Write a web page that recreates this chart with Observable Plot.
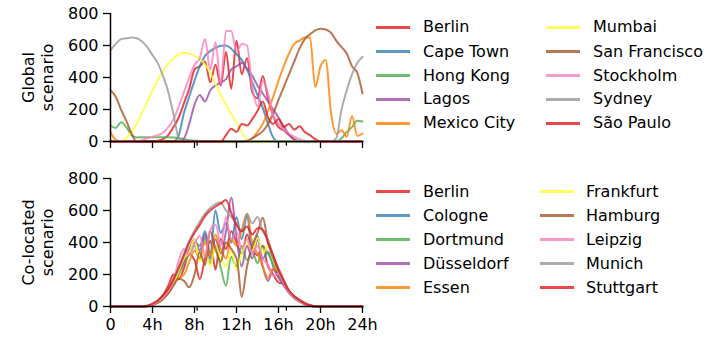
<!DOCTYPE html>
<html><head><meta charset="utf-8">
<script src="https://cdn.jsdelivr.net/npm/d3@7"></script>
<script src="https://cdn.jsdelivr.net/npm/@observablehq/plot@0.6"></script>
<style>
body{margin:0;background:#fff;font-family:"DejaVu Sans",sans-serif}
#root{position:relative;width:716px;height:337px;overflow:hidden;background:#fff}
.panel{position:absolute;left:0}
.leg{position:absolute;font-size:16px;color:#000;white-space:nowrap;line-height:20px;font-family:"DejaVu Sans",sans-serif}
.sw{position:absolute;height:3px;width:34px}
</style></head>
<body><div id="root"></div>
<script>
const hours = [0,0.5,1,1.5,2,2.5,3,3.5, 4,4.5,5,5.5,6,6.5,7,7.5, 8,8.5,9,9.5,10,10.5,11,11.5,
  12,12.5,13,13.5,14,14.5,15,15.5, 16,16.5,17,17.5,18,18.5,19,19.5, 20,20.5,21,21.5,22,22.5,23,23.5, 24];
const xTicks = [0,4,8,12,16,20,24];
const xTickLabels = ["0","4h","8h","12h","16h","20h","24h"];
const yTicks = [0,200,400,600,800];
const palette = ["#e41a1c","#377eb8","#4daf4a","#984ea3","#ff7f00","#ffff33","#a65628","#f781bf","#999999","#e41a1c"];

const globalCities = ["Berlin","Cape Town","Hong Kong","Lagos","Mexico City","Mumbai","San Francisco","Stockholm","Sydney","São Paulo"];
const gBerlin = [0,0,0,0,0,0,0,0, 0,5,15,40,90,150,240,330, 450,470,500,370,480,350,560,330, 630,420,520,310,270,410,270,160, 90,70,40,15,0,0,0,0, 0,0,0,0,0,0,0,0, 0];
const gCapeTown = [0,0,0,0,0,0,0,0, 0,0,0,0,0,40,180,280, 380,470,535,565,585,598,600,580, 545,510,450,370,290,210,110,25, 0,0,0,0,0,0,0,0, 0,0,0,0,0,0,0,0, 0];
const gHongKong = [100,85,120,90,40,25,27,27, 27,27,26,26,25,22,15,8, 5,3,0,0,0,0,0,0, 0,0,0,0,0,0,0,0, 0,0,0,0,0,0,0,0, 0,0,0,0,20,60,90,130, 125];
const gLagos = [0,0,0,0,0,0,0,0, 0,0,0,0,0,0,20,110, 230,290,250,320,350,370,390,450, 470,490,455,410,350,300,250,200, 150,95,45,10,0,0,0,0, 0,0,0,0,0,0,0,0, 0];
const gMexicoCity = [60,10,0,0,0,0,0,0, 0,0,0,0,0,0,0,0, 0,0,0,0,0,0,0,0, 0,0,0,20,60,110,190,280, 380,470,550,610,630,650,650,340, 470,510,180,50,70,30,160,35, 50];
const gMumbai = [0,0,0,20,60,110,180,250, 320,385,440,485,520,545,555,550, 535,515,480,430,360,290,230,170, 120,60,10,0,0,0,0,0, 0,0,0,0,0,0,0,0, 0,0,0,0,0,0,0,0, 0];
const gSanFrancisco = [320,280,200,130,50,0,0,0, 0,0,0,0,0,0,0,0, 0,0,0,0,0,0,0,0, 0,0,5,20,40,65,110,175, 260,340,420,500,580,640,670,695, 705,700,680,630,590,550,470,430, 300];
const gStockholm = [0,0,0,0,0,0,10,20, 30,40,55,90,140,220,310,400, 480,520,640,450,620,360,690,690, 560,610,600,340,220,380,300,160, 110,75,50,30,15,5,0,0, 0,0,0,0,0,0,0,0, 0];
const gSydney = [570,610,640,645,650,645,625,590, 540,490,410,310,170,20,0,0, 0,0,0,0,0,0,0,0, 0,0,0,0,0,0,0,0, 0,0,0,0,0,0,0,0, 0,0,0,20,200,320,420,490, 530];
const gSaoPaulo = [0,0,0,0,0,0,0,0, 0,0,0,0,0,0,0,0, 0,0,0,0,0,0,40,80, 60,110,100,140,190,250,150,110, 140,90,110,75,95,60,40,15, 0,0,0,0,0,0,0,0, 0];

const localCities = ["Berlin","Cologne","Dortmund","Düsseldorf","Essen","Frankfurt","Hamburg","Leipzig","Munich","Stuttgart"];
const cBerlin = [0,0,0,0,0,0,0,3, 15,35,70,130,200,170,240,330, 290,170,300,410,230,420,360,470, 400,330,450,360,320,380,250,200, 150,140,90,60,35,18,6,0, 0,0,0,0,0,0,0,0, 0];
const cCologne = [0,0,0,0,0,0,0,2, 12,30,55,95,150,210,280,350, 400,380,470,330,600,460,520,400, 560,420,570,360,440,300,340,250, 190,140,90,55,32,15,5,0, 0,0,0,0,0,0,0,0, 0];
const cDortmund = [0,0,0,0,0,0,0,2, 10,25,50,85,140,200,270,330, 380,300,430,270,380,240,130,310, 250,380,290,340,270,380,330,270, 200,145,90,55,30,14,4,0, 0,0,0,0,0,0,0,0, 0];
const cDusseldorf = [0,0,0,0,0,0,0,2, 10,28,55,90,150,220,290,360, 420,350,450,300,420,330,470,680, 430,250,380,300,420,250,160,230, 180,130,85,52,30,14,4,0, 0,0,0,0,0,0,0,0, 0];
const cEssen = [0,0,0,0,0,0,0,2, 10,25,50,90,160,180,200,280, 350,300,400,320,450,360,300,420, 380,480,580,400,330,250,180,240, 215,155,95,60,40,22,8,0, 0,0,0,0,0,0,0,0, 0];
const cFrankfurt = [0,0,0,0,0,0,0,2, 10,28,55,95,150,220,300,340, 420,280,350,250,380,300,250,350, 230,330,400,350,430,330,380,290, 220,150,95,58,35,18,6,0, 0,0,0,0,0,0,0,0, 0];
const cHamburg = [0,0,0,0,0,0,0,2, 8,22,45,80,130,175,160,120, 200,340,260,470,360,280,400,360, 300,60,250,380,460,555,400,300, 220,150,95,60,40,20,7,0, 0,0,0,0,0,0,0,0, 0];
const cLeipzig = [0,0,0,0,0,0,0,3, 12,30,55,95,160,290,360,320, 390,440,310,480,510,380,560,420, 470,360,420,330,380,300,260,190, 205,145,90,55,32,15,5,0, 0,0,0,0,0,0,0,0, 0];
const cMunich = [0,0,0,0,0,0,0,4, 15,35,65,110,175,250,330,410, 475,530,580,615,640,650,600,560, 520,470,580,520,560,470,420,310, 240,170,100,62,40,22,8,0, 0,0,0,0,0,0,0,0, 0];
const cStuttgart = [0,0,0,0,0,0,0,5, 18,38,70,110,170,240,320,400, 460,510,565,600,625,645,665,585, 510,470,500,450,490,480,400,320, 230,160,100,65,40,20,8,0, 0,0,0,0,0,0,0,0, 0];

const globalSeries = [gBerlin,gCapeTown,gHongKong,gLagos,gMexicoCity,gMumbai,gSanFrancisco,gStockholm,gSydney,gSaoPaulo];
const localSeries = [cBerlin,cCologne,cDortmund,cDusseldorf,cEssen,cFrankfurt,cHamburg,cLeipzig,cMunich,cStuttgart];

function toRows(names, series) {
  const rows = [];
  names.forEach((n, k) => series[k].forEach((v, i) => rows.push({city: n, k, h: hours[i], v})));
  return rows;
}

function panel(names, series, label, showX, height, mt, mb, curve) {
  const rows = toRows(names, series);
  const keys = names.map((n, k) => k);
  return Plot.plot({
    width: 370, height, marginLeft: 110, marginRight: 8, marginTop: mt, marginBottom: mb,
    x: {domain: [0, 24]},
    y: {domain: [0, 800]},
    color: {domain: keys, range: palette},
    style: {fontFamily: "DejaVu Sans", fontSize: "16px", color: "#000", background: "transparent", overflow: "visible"},
    marks: [
      Plot.lineY(rows, {x: "h", y: "v", z: "k", stroke: "k", strokeWidth: 2, strokeOpacity: 0.8, curve}),
      Plot.ruleY([0], {stroke: "#000", strokeWidth: 1.5}),
      Plot.ruleX([0], {stroke: "#000", strokeWidth: 1.5}),
      Plot.ruleX([8.25, 16.75], {y1: 0, y2: -30, stroke: "#000", strokeWidth: 1.2}),
      Plot.axisX({ticks: xTicks, tickFormat: showX ? (d => xTickLabels[xTicks.indexOf(d)]) : (() => ""),
        tickSize: 7, tickPadding: 5, label: null, strokeWidth: 1.3, fontSize: 16}),
      Plot.axisY({ticks: yTicks, tickSize: 7, tickPadding: 5, label: null, strokeWidth: 1.3, fontSize: 16}),
      Plot.text([label], {frameAnchor: "left", dx: -73, rotate: -90, text: d => d, fontSize: 16,
        lineHeight: 1.2, textAnchor: "middle", lineAnchor: "middle", fill: "#000"})
    ]
  });
}

const root = document.getElementById("root");
const p1 = panel(globalCities, globalSeries, "Global\nscenario", false, 160, 13, 19, "monotone-x");
p1.classList.add("panel"); p1.style.top = "0px";
root.appendChild(p1);
const p2 = panel(localCities, localSeries, "Co-located\nscenario", true, 177, 18, 31, "catmull-rom");
p2.classList.add("panel"); p2.style.top = "160px";
root.appendChild(p2);

function legend(names, rowY, swX, txX) {
  names.forEach((n, j) => {
    const col = j < 5 ? 0 : 1, row = j % 5;
    const cy = rowY[row];
    const sw = document.createElement("div");
    sw.className = "sw";
    sw.style.left = swX[col] + "px"; sw.style.top = (cy - 1.5) + "px";
    sw.style.background = palette[j]; sw.style.opacity = 0.8;
    root.appendChild(sw);
    const t = document.createElement("div");
    t.className = "leg";
    t.style.left = txX[col] + "px"; t.style.top = (cy - 10) + "px";
    t.textContent = n;
    root.appendChild(t);
  });
}
legend(globalCities, [27.3, 51.5, 75.5, 99.3, 123.3], [376, 546], [423, 593]);
legend(localCities, [191.5, 215.5, 239.7, 263.7, 287.6], [376, 540], [423, 586]);
</script></body></html>
